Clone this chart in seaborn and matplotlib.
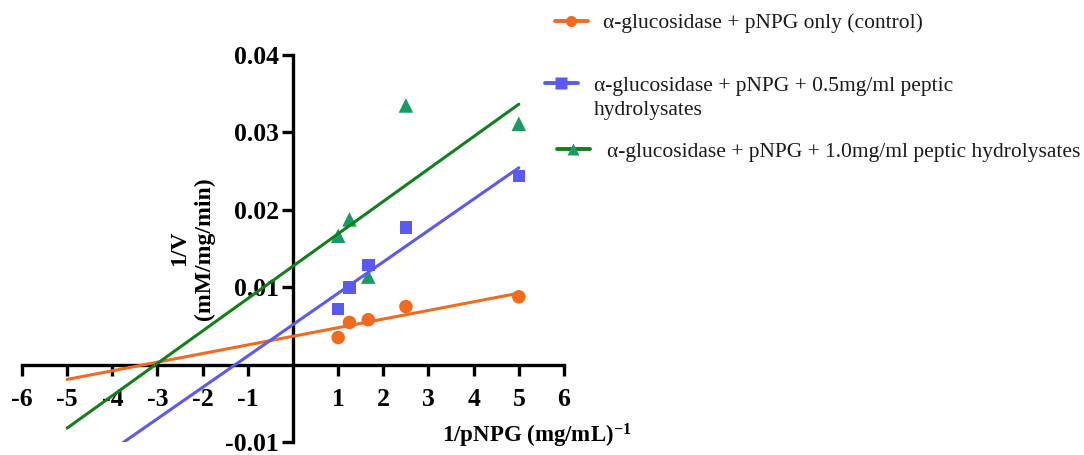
import numpy as np
import pandas as pd
import matplotlib
matplotlib.use("Agg")
import matplotlib.pyplot as plt
import seaborn as sns
from matplotlib.lines import Line2D

# ---- data ----
inv_pnpg = [1.0, 1.25, 1.667, 2.5, 5.0]          # 1/pNPG (mg/mL)^-1
control = [0.0035, 0.00545, 0.0058, 0.0075, 0.00876]
pep_05 = [0.00717, 0.00996, 0.01288, 0.01773, 0.02438]
pep_10 = [0.01665, 0.01876, 0.01137, 0.03348, 0.03112]
series_names = ["control", "0.5", "1.0"]
label_control = "α-glucosidase + pNPG only (control)"
label_05_line1 = "α-glucosidase + pNPG + 0.5mg/ml peptic"
label_05_line2 = "hydrolysates"
label_10 = "α-glucosidase + pNPG + 1.0mg/ml peptic hydrolysates"
x_ticks = [-6, -5, -4, -3, -2, -1, 1, 2, 3, 4, 5, 6]
y_ticks = [-0.01, 0.01, 0.02, 0.03, 0.04]
y_tick_labels = ["-0.01", "0.01", "0.02", "0.03", "0.04"]
fit_range = [-5.0, 5.0]

# ---- styles ----
c_orange = "#F26A1E"
c_blue = "#5A5AF2"
c_green_line = "#12801A"
c_green_mark = "#1A9A66"

sns.set_theme(style="white")
plt.rcParams['font.family'] = ['Liberation Serif', 'DejaVu Serif']
plt.rcParams['mathtext.fontset'] = 'custom'
plt.rcParams['mathtext.rm'] = 'Liberation Serif:bold'
plt.rcParams['mathtext.it'] = 'Liberation Serif:bold'
plt.rcParams['mathtext.bf'] = 'Liberation Serif:bold'

W, H = 1084, 455
fig = plt.figure(figsize=(W / 100, H / 100), dpi=100)
ax = fig.add_axes([22 / W, 1 - 442 / H, 542 / W, 387 / H])

df = pd.DataFrame({
    "x": inv_pnpg * 3,
    "y": control + pep_05 + pep_10,
    "series": [series_names[0]] * 5 + [series_names[1]] * 5 + [series_names[2]] * 5,
})

specs = [
    (series_names[0], c_orange, c_orange, "o", 95),
    (series_names[1], c_blue, c_blue, "s", 80),
    (series_names[2], c_green_line, c_green_mark, "^", 110),
]
for name, lc, mc, mk, s in specs:
    sub = df[df["series"] == name]
    sns.scatterplot(data=sub, x="x", y="y", color=mc, marker=mk, s=s,
                    edgecolor="none", ax=ax, legend=False, zorder=2)
    coef = np.polyfit(sub["x"], sub["y"], 1)
    xf = np.array(fit_range)
    sns.lineplot(x=xf, y=np.polyval(coef, xf), color=lc, lw=2.2, ax=ax,
                 legend=False, zorder=3)

ax.set_xlim(-6, 6)
ax.set_ylim(-0.01, 0.04)
for side in ["top", "right"]:
    ax.spines[side].set_visible(False)
ax.spines["left"].set_position(("data", 0))
ax.spines["bottom"].set_position(("data", 0))
for side in ["left", "bottom"]:
    ax.spines[side].set_linewidth(2.4)
    ax.spines[side].set_color("black")

ax.set_xticks(x_ticks)
ax.set_xticklabels([str(t) for t in x_ticks])
ax.set_yticks(y_ticks)
ax.set_yticklabels(y_tick_labels)
ax.tick_params(axis="both", which="major", bottom=True, left=True, direction="out",
               length=8, width=2.4, color="black", labelsize=18.5, labelcolor="black")
ax.tick_params(axis="x", pad=9)
ax.tick_params(axis="y", pad=2)
for lab in ax.get_xticklabels() + ax.get_yticklabels():
    lab.set_fontweight("bold")

ax.set_ylabel("1/V\n(mM/mg/min)", fontsize=17, fontweight="bold", linespacing=1.25,
              color="black")
ax.yaxis.set_label_coords(0.356, 0.5)
ax.set_xlabel("1/pNPG (mg/mL)$^{-1}$", fontsize=16.5, fontweight="bold", color="black",
              va="baseline")
ax.xaxis.set_label_coords(0.95, 0.0)

# ---- legends ----
fs_leg = 15.5
txt_col = "#1a1a1a"
h1 = Line2D([0], [0], color=c_orange, lw=2.8, marker="o", markersize=8,
            markerfacecolor=c_orange, markeredgecolor="none")
h2 = Line2D([0], [0], color=c_blue, lw=2.8, marker="s", markersize=8,
            markerfacecolor=c_blue, markeredgecolor="none")
h2b = Line2D([0], [0], color="none", lw=0)
h3 = Line2D([0], [0], color=c_green_line, lw=2.8, marker="^", markersize=8.5,
            markerfacecolor=c_green_mark, markeredgecolor="none")

common = dict(loc="center left", frameon=False, borderpad=0, borderaxespad=0,
              fontsize=fs_leg, handlelength=1.53, labelcolor=txt_col)
leg1 = fig.legend([h1], [label_control], bbox_to_anchor=(555 / W, 1 - 23 / H),
                  handletextpad=0.7, **common)
leg2 = fig.legend([h2, h2b], [label_05_line1, label_05_line2],
                  bbox_to_anchor=(545 / W, 1 - 98 / H), handletextpad=0.75,
                  labelspacing=0.2, **common)
leg3 = fig.legend([h3], [label_10], bbox_to_anchor=(557 / W, 1 - 152 / H),
                  handletextpad=0.8, **common)

fig.savefig("out.png", dpi=100)
